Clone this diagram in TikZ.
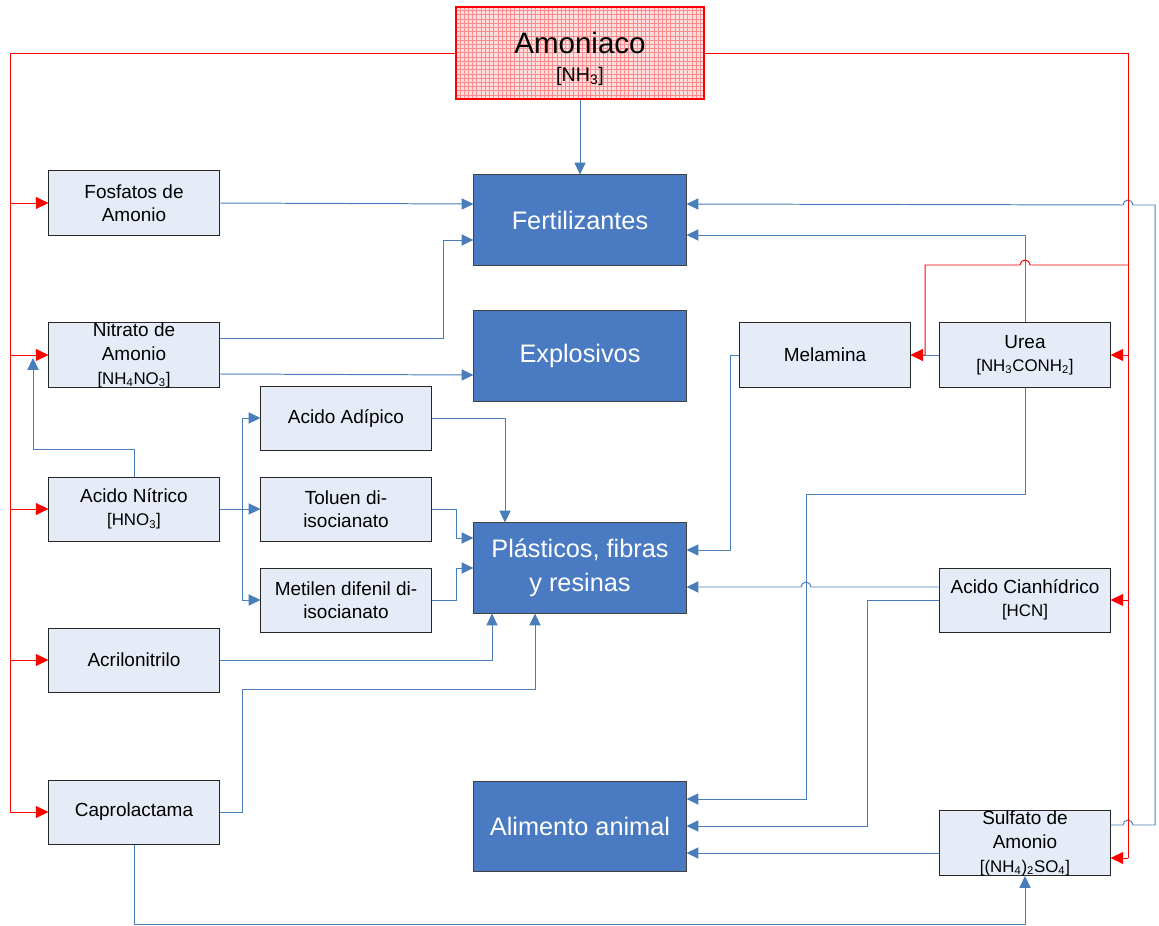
\documentclass[tikz,border=0pt]{standalone}
\usepackage{fontspec}
\setmainfont{Liberation Sans}
\usetikzlibrary{arrows.meta,calc,patterns}
\definecolor{lineblue}{HTML}{4A7EBB}
\definecolor{boxblue}{HTML}{4A7BC2}
\definecolor{boxlight}{HTML}{E6ECF7}
\newcommand{\quim}[1]{{\fontsize{12}{14}\selectfont #1}}

\begin{document}
\begin{tikzpicture}[x=0.025cm,y=-0.025cm,
lbox/.style={draw=black!85,line width=0.7pt,fill=boxlight,minimum width=4.25cm,minimum height=1.6cm,inner sep=0pt,align=center,font=\fontsize{13.5}{16}\selectfont},
dbox/.style={draw=black!75,line width=0.7pt,fill=boxblue,text=white,minimum width=5.3cm,minimum height=2.25cm,inner sep=0pt,align=center,font=\fontsize{18}{21}\selectfont},
azul/.style={draw=lineblue,line width=0.7pt},
azulf/.style={azul,-{Triangle[length=8.5pt,width=8pt]}},
rojo/.style={draw=red,line width=0.7pt},
rojof/.style={rojo,-{Triangle[length=9pt,width=8.5pt]}}]
\useasboundingbox (0,0) rectangle (1159,926);
\node[draw=red,line width=0.8pt,preaction={fill=red!12},pattern=grid,pattern color=red!45,minimum width=6.2cm,minimum height=2.3cm,inner sep=0pt,align=center,font=\fontsize{21}{25}\selectfont] (amoniaco) at (580,53) {\rule{0pt}{24pt}Amoniaco\\[-5pt]{\fontsize{14}{16}\selectfont [NH\textsubscript{3}]}};
\node[lbox] (fosfatos) at (134,203) {Fosfatos de\\Amonio};
\node[lbox] (nitrato) at (134,355) {Nitrato de\\[1pt]Amonio\\[1pt]\quim{[NH\textsubscript{4}NO\textsubscript{3}]}};
\node[lbox] (nitrico) at (134,509) {Acido Nítrico\\\quim{[HNO\textsubscript{3}]}};
\node[lbox] (acrilo) at (134,660) {Acrilonitrilo};
\node[lbox] (capro) at (134,812) {Caprolactama};
\node[lbox] (adipico) at (346,418) {Acido Adípico};
\node[lbox] (toluen) at (346,509) {Toluen di-\\isocianato};
\node[lbox] (metilen) at (346,600) {Metilen difenil di-\\isocianato};
\node[dbox] (fert) at (580,220) {Fertilizantes};
\node[dbox] (expl) at (580,356) {Explosivos};
\node[dbox] (plas) at (580,568) {Plásticos, fibras\\[3pt]y resinas};
\node[dbox] (alim) at (580,826) {Alimento animal};
\node[lbox] (melamina) at (825,355) {Melamina};
\node[lbox] (urea) at (1025,355) {Urea\\\quim{[NH\textsubscript{3}CONH\textsubscript{2}]}};
\node[lbox] (hcn) at (1025,600) {Acido Cianhídrico\\\quim{[HCN]}};
\node[lbox] (sulfato) at (1025,843) {Sulfato de\\[1pt]Amonio\\[1pt]\quim{[(NH\textsubscript{4})\textsubscript{2}SO\textsubscript{4}]}};
\coordinate (lbus) at (10,0);
\coordinate (rbus) at (1128,0);
\coordinate (nitin) at (33,358);
\coordinate (nbus) at (242,509);
\coordinate (melin) at (925,265);
\draw[azulf] (amoniaco.south) -- (fert.north);
\draw[azulf] (fosfatos.east) -- ($(fert.west)+(0,-16)$);
\draw[azulf] ($(nitrato.east)+(0,-17)$) -- (443,338) |- ($(fert.west)+(0,20)$);
\draw[azulf] ($(nitrato.east)+(0,19)$) -- ($(expl.west)+(0,19)$);
\draw[azulf] (nitrico.north) -- (134,449) -| (nitin);
\draw[azul] (nitrico.east) -- (nbus);
\draw[azulf] (nbus) |- (adipico.west);
\draw[azulf] (nbus) -- (toluen.west);
\draw[azulf] (nbus) |- (metilen.west);
\draw[azulf] (adipico.east) -| ($(plas.north)+(-75,0)$);
\draw[azulf] (toluen.east) -- (456,509) |- ($(plas.west)+(0,-30)$);
\draw[azulf] (metilen.east) -- (456,600) |- (plas.west);
\draw[azulf] (acrilo.east) -| ($(plas.south)+(-88,0)$);
\draw[azulf] (capro.east) -- (242,812) |- (535,689) -- ($(plas.south)+(-45,0)$);
\draw[azulf] (capro.south) -- (134,924) -| (sulfato.south);
\draw[azulf] (melamina.west) -- (730,355) |- ($(plas.east)+(0,-18)$);
\draw[azulf] (urea.north) |- ($(fert.east)+(0,15)$);
\draw[azulf] (urea.west) -- (melamina.east);
\draw[azulf] (urea.south) -- (1025,494) -- (806,494) |- ($(alim.east)+(0,-27)$);
\draw[azulf] ($(hcn.west)+(0,-13)$) -- (811,587) arc[start angle=0,end angle=180,radius=3.54pt] -- ($(plas.east)+(0,19)$);
\draw[azulf] (hcn.west) -- (867,600) |- (alim.east);
\draw[azulf] ($(sulfato.west)+(0,10)$) -- ($(alim.east)+(0,27)$);
\draw[azulf] ($(sulfato.east)+(0,-18)$) -- (1123,825) arc[start angle=180,end angle=0,radius=3.54pt] -- (1155,825) -- (1155,205) -- (1133,205) arc[start angle=0,end angle=180,radius=3.54pt] -- ($(fert.east)+(0,-16)$);
\draw[rojo] (amoniaco.west) -| (lbus |- capro.west);
\foreach \n in {fosfatos,nitrato,nitrico,acrilo,capro}
  \draw[rojof] (lbus |- \n.west) -- (\n.west);
\draw[rojo] (amoniaco.east) -| ($(rbus |- sulfato.east)+(0,15)$);
\draw[rojof] (rbus |- urea.east) -- (urea.east);
\draw[rojof] (rbus |- hcn.east) -- (hcn.east);
\draw[rojof] ($(rbus |- sulfato.east)+(0,15)$) -- ($(sulfato.east)+(0,15)$);
\draw[rojof] (rbus |- melin) -- (1030,265) arc[start angle=0,end angle=180,radius=3.54pt] -- (melin) |- (melamina.east);
\end{tikzpicture}
\end{document}
